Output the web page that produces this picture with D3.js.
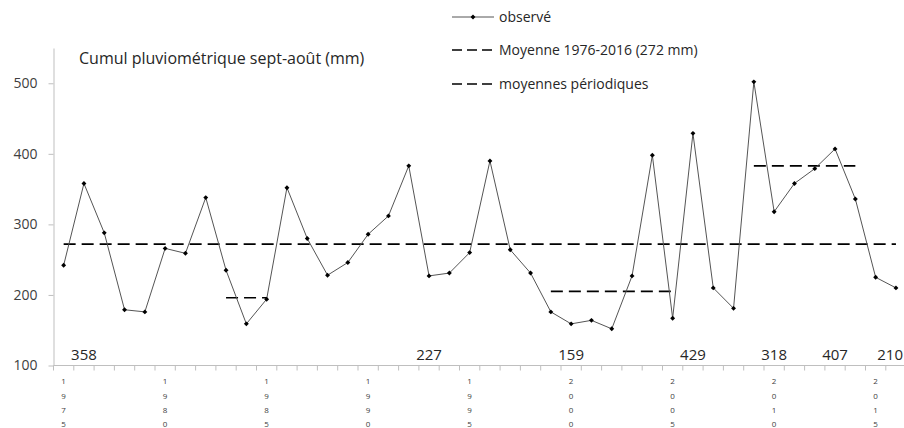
<!DOCTYPE html>
<html>
<head>
<meta charset="utf-8">
<script src="https://cdn.jsdelivr.net/npm/d3@7"></script>
<style>
  body { margin: 0; background: #fff; }
  svg { display: block; font-family: 'Open Sans', sans-serif; }
</style>
</head>
<body>
<div id="chart"></div>
<script>
// Seasonal rainfall totals (sept-aug), one value per year
const years = d3.range(1975, 2017);
const rainfall = [
  242, 358, 288, 179, 176, 266, 259, 338, 235, 159,
  194, 352, 280, 228, 246, 286, 312, 383, 227, 231,
  260, 390, 264, 231, 176, 159, 164, 152, 227, 398,
  167, 429, 210, 181, 502, 318, 358, 379, 407, 336,
  225, 210
];
const overallMean = 272;
// Periodic means: [first year, last year, mean]
const periodMeans = [
  [1983, 1985, 196],
  [1999, 2005, 205],
  [2009, 2014, 383]
];
// Values written along the bottom of the plot
const bottomLabels = [
  [1976, '358'], [1993, '227'], [2000, '159'], [2006, '429'],
  [2010, '318'], [2013, '407'], [2016, '210']
];
const yTicks = [100, 200, 300, 400, 500];
const xTickYears = [1975, 1980, 1985, 1990, 1995, 2000, 2005, 2010, 2015];
const title = 'Cumul pluviométrique sept-août (mm)';
const legendItems = ['observé', 'Moyenne 1976-2016 (272 mm)', 'moyennes périodiques'];

const width = 904, height = 428;
const margin = {top: 48, left: 53.5, bottom: 62.5};
const step = 20.3;

const svg = d3.select('#chart').append('svg')
  .attr('width', width)
  .attr('height', height);

const x = d3.scaleBand()
  .domain(years)
  .range([margin.left, margin.left + step * years.length])
  .padding(0);
const cx = yr => x(yr) + x.bandwidth() / 2;

const y = d3.scaleLinear()
  .domain([100, 550])
  .range([height - margin.bottom, margin.top]);

const axisColor = '#bfbfbf';
const textColor = '#404040';

// y axis
const yAxisG = svg.append('g')
  .attr('transform', `translate(${margin.left},0)`)
  .call(d3.axisLeft(y).tickValues(yTicks).tickSize(5).tickSizeOuter(0).tickPadding(11));
yAxisG.select('.domain').attr('stroke', axisColor);
yAxisG.selectAll('.tick line').attr('stroke', axisColor);
yAxisG.selectAll('.tick text')
  .attr('fill', textColor)
  .attr('font-family', "'Open Sans', sans-serif")
  .attr('font-size', '14px');

// x axis: line with ticks on category boundaries
const xAxisG = svg.append('g')
  .attr('transform', `translate(0,${y(100)})`);
xAxisG.append('line')
  .attr('x1', x.range()[0]).attr('x2', x.range()[1])
  .attr('stroke', axisColor);
xAxisG.selectAll('.bt')
  .data(years.concat([null]))
  .enter().append('line')
  .attr('x1', d => d === null ? x.range()[1] : x(d))
  .attr('x2', d => d === null ? x.range()[1] : x(d))
  .attr('y1', 0).attr('y2', 5)
  .attr('stroke', axisColor);

// vertical digit labels
const xl = xAxisG.selectAll('.xl')
  .data(xTickYears)
  .enter().append('text')
  .attr('text-anchor', 'middle')
  .attr('font-size', '8px')
  .attr('fill', textColor);
xl.selectAll('tspan')
  .data(d => String(d).split('').map(c => ({c, yr: d})))
  .enter().append('tspan')
  .attr('x', d => cx(d.yr))
  .attr('y', (d, i) => 18.8 + i * 14.2)
  .text(d => d.c);

// overall mean
const dash = '12,6';
svg.append('line')
  .attr('x1', cx(years[0]))
  .attr('x2', cx(years[years.length - 1]))
  .attr('y1', y(overallMean)).attr('y2', y(overallMean))
  .attr('stroke', '#000').attr('stroke-width', 1.6)
  .attr('stroke-dasharray', dash);

// periodic means
svg.selectAll('.pm')
  .data(periodMeans)
  .enter().append('line')
  .attr('x1', d => cx(d[0]))
  .attr('x2', d => cx(d[1]))
  .attr('y1', d => y(d[2])).attr('y2', d => y(d[2]))
  .attr('stroke', '#000').attr('stroke-width', 1.6)
  .attr('stroke-dasharray', dash);

// observed series
const line = d3.line()
  .x((d, i) => cx(years[i]))
  .y(d => y(d));
svg.append('path')
  .datum(rainfall)
  .attr('d', line)
  .attr('fill', 'none')
  .attr('stroke', '#555')
  .attr('stroke-width', 1);

const marker = d3.symbol().type(d3.symbolSquare).size(12);
svg.selectAll('.pt')
  .data(rainfall)
  .enter().append('path')
  .attr('d', marker)
  .attr('transform', (d, i) => `translate(${cx(years[i])},${y(d)}) rotate(45)`)
  .attr('fill', '#000');

// bottom value labels (kept inside the picture at the right edge)
svg.selectAll('.bl')
  .data(bottomLabels)
  .enter().append('text')
  .attr('y', y(100) - 6)
  .attr('text-anchor', 'middle')
  .attr('font-size', '15px')
  .attr('fill', '#262626')
  .text(d => d[1])
  .attr('x', function(d) {
    const half = this.getComputedTextLength() / 2;
    return Math.min(cx(d[0]), width - 1 - half);
  });

// title
svg.append('text')
  .attr('x', 79)
  .attr('y', 64)
  .attr('font-size', '16px')
  .attr('fill', '#262626')
  .text(title);

// legend
const lg = svg.append('g').attr('transform', 'translate(452,0)');
const rowY = [17, 50, 84];
legendItems.forEach((t, i) => {
  const row = lg.append('g').attr('transform', `translate(0,${rowY[i]})`);
  row.append('line')
    .attr('x1', 0).attr('x2', 42)
    .attr('stroke', i === 0 ? '#555' : '#000')
    .attr('stroke-width', i === 0 ? 1 : 1.6)
    .attr('stroke-dasharray', i === 0 ? null : '10,5');
  if (i === 0) {
    row.append('path').attr('d', marker).attr('transform', 'translate(21,0) rotate(45)').attr('fill', '#000');
  }
  row.append('text')
    .attr('x', 47)
    .attr('dy', '0.35em')
    .attr('font-size', '14px')
    .attr('fill', '#262626')
    .text(t);
});
</script>
</body>
</html>
